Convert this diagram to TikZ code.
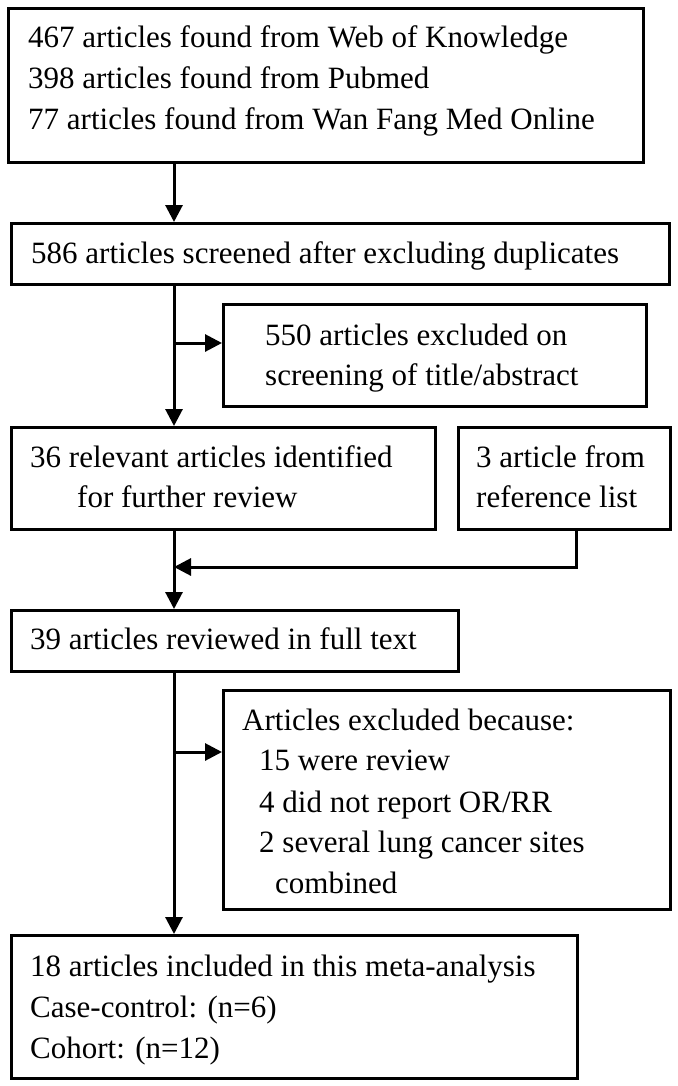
\documentclass[tikz,border=0pt]{standalone}
\usepackage{fontspec}
\usetikzlibrary{arrows.meta}
\newfontfamily\reffont{Liberation Serif}
\begin{document}
\begin{tikzpicture}[x=1pt,y=-1pt,
  box/.style={draw, line width=3pt, rectangle, inner sep=0pt, anchor=north west},
  txt/.style={anchor=base west, inner sep=0pt, font={\reffont\fontsize{31}{41}\selectfont}},
  arr/.style={line width=3pt, -{Triangle[width=17pt,length=17pt]}}]
\fill[white] (0,0) rectangle (677,1086);
\useasboundingbox (0,0) rectangle (677,1086);
% boxes
\node[box, minimum width=635pt, minimum height=154pt] (b1) at (7,7) {};
\node[box, minimum width=658pt, minimum height=61pt] (b2) at (10,222) {};
\node[box, minimum width=423pt, minimum height=102pt] (b3) at (222,303) {};
\node[box, minimum width=424pt, minimum height=102pt] (b4) at (10,426) {};
\node[box, minimum width=212pt, minimum height=102pt] (b5) at (457,426) {};
\node[box, minimum width=447pt, minimum height=61pt] (b6) at (10,609) {};
\node[box, minimum width=447pt, minimum height=219pt] (b7) at (222,689) {};
\node[box, minimum width=566pt, minimum height=143pt] (b8) at (10,934) {};
% texts
\node[txt] (t1a) at (28,48) {467 articles found from Web of Knowledge};
\node[txt] (t1b) at (28,89) {398 articles found from Pubmed};
\node[txt] (t1c) at (28,130) {77 articles found from Wan Fang Med Online};
\node[txt] (t2) at (31,263) {586 articles screened after excluding duplicates};
\node[txt] (t3a) at (265,345) {550 articles excluded on};
\node[txt] (t3b) at (265,385) {screening of title/abstract};
\node[txt] (t4a) at (30,467) {36 relevant articles identified};
\node[txt] (t4b) at (77,507) {for further review};
\node[txt] (t5a) at (476,467) {3 article from};
\node[txt] (t5b) at (476,507) {reference list};
\node[txt] (t6) at (30,649) {39 articles reviewed in full text};
\node[txt] (t7a) at (242,730) {Articles excluded because:};
\node[txt] (t7b) at (259,770) {15 were review};
\node[txt] (t7c) at (259,812) {4 did not report OR/RR};
\node[txt] (t7d) at (259,852) {2 several lung cancer sites};
\node[txt] (t7e) at (275,893) {combined};
\node[txt] (t8a) at (30,976) {18 articles included in this meta-analysis};
\node[txt] (t8b) at (30,1017) {Case-control: (n=6)};
\node[txt] (t8c) at (30,1058) {Cohort: (n=12)};
% connectors
\coordinate (m) at (174,0);
\coordinate (j1) at (174,343);
\coordinate (j2) at (174,752);
\coordinate (r1) at (576,567);
\draw[arr] (b1.south -| m) -- (b2.north -| m);
\draw[arr] (b2.south -| m) -- (b4.north -| m);
\draw[arr] (j1) -- (j1 -| b3.west);
\draw[arr] (b4.south -| m) -- (b6.north -| m);
\draw[arr] (b5.south -| r1) -- (r1) -- (r1 -| m);
\draw[arr] (b6.south -| m) -- (b8.north -| m);
\draw[arr] (j2) -- (j2 -| b7.west);
\end{tikzpicture}
\end{document}
